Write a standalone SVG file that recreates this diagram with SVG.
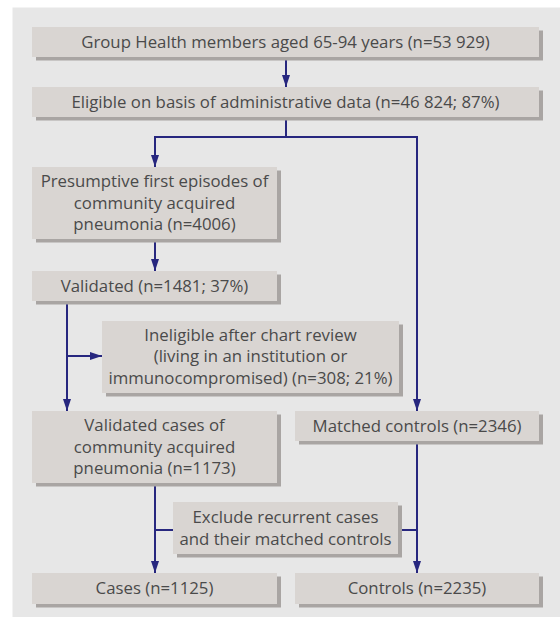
<svg xmlns="http://www.w3.org/2000/svg" width="560" height="617" viewBox="0 0 560 617">
<defs>
<style>
.bg{fill:#e7e7e7}
.sh{fill:#a9a5a3}
.bx{fill:#d9d5d2}
.t{font-family:"Open Sans","Noto Sans","Liberation Sans",sans-serif;font-size:16.8px;fill:#4a4a4a;text-anchor:middle}
.c{stroke:#27277f;stroke-width:2;fill:none}
</style>
<marker id="ah" viewBox="0 0 12 8" refX="12" refY="4" markerWidth="12" markerHeight="8" markerUnits="userSpaceOnUse" orient="auto">
<path d="M0,0 L12,4 L0,8 Z" fill="#27277f"/>
</marker>
</defs>
<rect class="bg" x="12.5" y="7.5" width="547.5" height="609.5"/>
<g id="connectors">
<path class="c" d="M286,57 V87" marker-end="url(#ah)"/>
<path class="c" d="M286,117 V137 M155,137 H417"/>
<path class="c" d="M155,136 V167" marker-end="url(#ah)"/>
<path class="c" d="M417,136 V411" marker-end="url(#ah)"/>
<path class="c" d="M155,239 V271" marker-end="url(#ah)"/>
<path class="c" d="M67,301 V411" marker-end="url(#ah)"/>
<path class="c" d="M67,356 H102" marker-end="url(#ah)"/>
<path class="c" d="M155,483 V573" marker-end="url(#ah)"/>
<path class="c" d="M155,530 H173"/>
<path class="c" d="M417,441 V573" marker-end="url(#ah)"/>
<path class="c" d="M398,530 H417"/>
</g>
<g id="n1">
<rect class="sh" x="36" y="30.5" width="507" height="30"/>
<rect class="bx" x="32" y="27" width="507" height="30"/>
<text class="t" x="285.5" y="47.5">Group Health members aged 65-94 years (n=53 929)</text>
</g>
<g id="n2">
<rect class="sh" x="36" y="90.5" width="507" height="30"/>
<rect class="bx" x="32" y="87" width="507" height="30"/>
<text class="t" x="285.5" y="107.5">Eligible on basis of administrative data (n=46 824; 87%)</text>
</g>
<g id="n3">
<rect class="sh" x="36" y="170.5" width="245" height="72"/>
<rect class="bx" x="32" y="167" width="245" height="72"/>
<text class="t" x="154.5" y="187">Presumptive first episodes of</text>
<text class="t" x="154.5" y="208.5">community acquired</text>
<text class="t" x="154.5" y="230">pneumonia (n=4006)</text>
</g>
<g id="n4">
<rect class="sh" x="36" y="274.5" width="245" height="30"/>
<rect class="bx" x="32" y="271" width="245" height="30"/>
<text class="t" x="154.5" y="291.5">Validated (n=1481; 37%)</text>
</g>
<g id="n5">
<rect class="sh" x="106" y="324.5" width="297" height="72"/>
<rect class="bx" x="102" y="321" width="297" height="72"/>
<text class="t" x="250.5" y="340.5">Ineligible after chart review</text>
<text class="t" x="250.5" y="362">(living in an institution or</text>
<text class="t" x="250.5" y="383.5">immunocompromised) (n=308; 21%)</text>
</g>
<g id="n6">
<rect class="sh" x="36" y="414.5" width="245" height="72"/>
<rect class="bx" x="32" y="411" width="245" height="72"/>
<text class="t" x="154.5" y="431">Validated cases of</text>
<text class="t" x="154.5" y="452.5">community acquired</text>
<text class="t" x="154.5" y="474">pneumonia (n=1173)</text>
</g>
<g id="n7">
<rect class="sh" x="299" y="414.5" width="244" height="30"/>
<rect class="bx" x="295" y="411" width="244" height="30"/>
<text class="t" x="417" y="431.5">Matched controls (n=2346)</text>
</g>
<g id="n8">
<rect class="sh" x="177" y="505.5" width="225" height="52"/>
<rect class="bx" x="173" y="502" width="225" height="52"/>
<text class="t" x="285.5" y="523">Exclude recurrent cases</text>
<text class="t" x="285.5" y="545">and their matched controls</text>
</g>
<g id="n9">
<rect class="sh" x="36" y="576.5" width="245" height="31"/>
<rect class="bx" x="32" y="573" width="245" height="31"/>
<text class="t" x="154.5" y="594">Cases (n=1125)</text>
</g>
<g id="n10">
<rect class="sh" x="299" y="576.5" width="244" height="31"/>
<rect class="bx" x="295" y="573" width="244" height="31"/>
<text class="t" x="417" y="594">Controls (n=2235)</text>
</g>
</svg>
